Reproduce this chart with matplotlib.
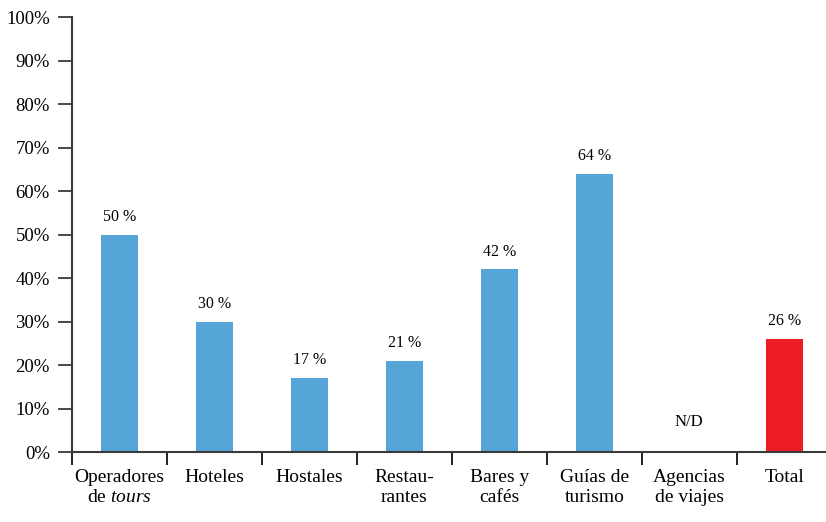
import matplotlib.pyplot as plt
import numpy as np

plt.rcParams["font.family"] = ["Liberation Serif", "DejaVu Serif"]
plt.rcParams["mathtext.fontset"] = "custom"
plt.rcParams["mathtext.it"] = "Liberation Serif:italic"
plt.rcParams["mathtext.rm"] = "Liberation Serif"

categories = [
    "Operadores\nde $\\it{tours}$",
    "Hoteles",
    "Hostales",
    "Restau-\nrantes",
    "Bares y\ncafés",
    "Guías de\nturismo",
    "Agencias\nde viajes",
    "Total",
]
# None = sin dato (N/D)
values = [50, 30, 17, 21, 42, 64, None, 26]
colors = ["#55a5d8"] * 7 + ["#ed1c24"]
y_ticks = np.arange(0, 101, 10)

AXIS_COLOR = "#3a3a3a"

fig = plt.figure(figsize=(8.26, 5.22), dpi=100)
ax = fig.add_axes([0.0872, 0.134, 0.9128, 0.833])

x = np.arange(len(categories))
for xi, v, c in zip(x, values, colors):
    if v is None:
        ax.text(xi, 7, "N/D", ha="center", va="center", fontsize=12)
        continue
    ax.bar(xi, v, width=0.39, color=c, zorder=2)
    ax.annotate(f"{v} %", (xi, v), xytext=(0, 7), textcoords="offset points",
                ha="center", va="bottom", fontsize=11.5)

ax.set_xlim(-0.5, 7.44)
ax.set_ylim(0, 100)

ax.set_yticks(y_ticks)
ax.set_yticklabels([f"{t}%" for t in y_ticks], fontsize=13.5)
ax.tick_params(axis="y", length=10, width=1.3, color=AXIS_COLOR, pad=6)

# separadores entre categorías como ticks mayores, nombres como menores
ax.set_xticks(np.arange(-0.5, 7, 1.0))
ax.set_xticklabels([])
ax.set_xticks(x, minor=True)
ax.set_xticklabels(categories, minor=True, fontsize=14, linespacing=1.25)
ax.tick_params(axis="x", which="major", length=9.5, width=1.3, color="#111111")
ax.tick_params(axis="x", which="minor", length=0, pad=12)

for side in ["top", "right"]:
    ax.spines[side].set_visible(False)
for side in ["left", "bottom"]:
    ax.spines[side].set_color(AXIS_COLOR)
    ax.spines[side].set_linewidth(1.5)

fig.savefig("out.png", dpi=100)
